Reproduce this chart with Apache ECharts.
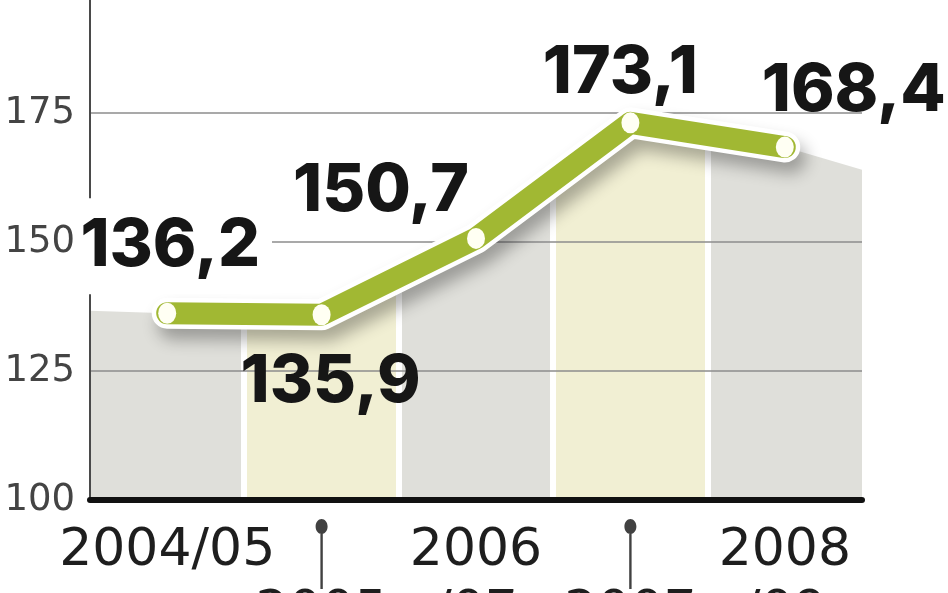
<!DOCTYPE html>
<html>
<head>
<meta charset="utf-8">
<script src="https://cdn.jsdelivr.net/npm/echarts@6/dist/echarts.min.js"></script>
<style>
html,body{margin:0;padding:0;background:#fff;}
#chart{width:948px;height:593px;}
</style>
</head>
<body>
<div id="chart"></div>
<script>
// ---- data ----
const categories = ['2004/05', '2005/06', '2006/07', '2007/08', '2008/09'];
const values = [136.2, 135.9, 150.7, 173.1, 168.4];
const pinCategories = ['2005/06', '2007/08'];
const yMin = 100, yMax = 200, yStep = 25;
// top of the shaded background at the far left / far right edges of the plot
const areaEdgeLeft = 136.7;
const areaEdgeRight = 164.0;

// ---- styling ----
const GREEN = '#a1b833';
const GREY = '#dfdfda';
const YELLOW = '#f1efd3';
const labelOffsets = [[9, -67], [9, 67], [-95, -47], [-10, -50], [69, -56]];

const chart = echarts.init(document.getElementById('chart'), null, {renderer: 'canvas'});

const g = 0.004;
const areaGradient = {
  type: 'linear', x: 0, y: 0, x2: 1, y2: 0,
  colorStops: [
    {offset: 0, color: GREY}, {offset: 0.2 - g, color: GREY},
    {offset: 0.2 - g, color: '#ffffff'}, {offset: 0.2 + g, color: '#ffffff'},
    {offset: 0.2 + g, color: YELLOW}, {offset: 0.4 - g, color: YELLOW},
    {offset: 0.4 - g, color: '#ffffff'}, {offset: 0.4 + g, color: '#ffffff'},
    {offset: 0.4 + g, color: GREY}, {offset: 0.6 - g, color: GREY},
    {offset: 0.6 - g, color: '#ffffff'}, {offset: 0.6 + g, color: '#ffffff'},
    {offset: 0.6 + g, color: YELLOW}, {offset: 0.8 - g, color: YELLOW},
    {offset: 0.8 - g, color: '#ffffff'}, {offset: 0.8 + g, color: '#ffffff'},
    {offset: 0.8 + g, color: GREY}, {offset: 1, color: GREY}
  ]
};

const areaData = [[-0.5, areaEdgeLeft]]
  .concat(values.map((v, i) => [i, v]))
  .concat([[categories.length - 0.5, areaEdgeRight]]);

const lineData = values.map((v, i) => {
  const item = {
    value: v,
    label: {offset: labelOffsets[i]}
  };
  if (i === 0) {
    item.label.backgroundColor = '#ffffff';
    item.label.padding = [22, 12, 8, 0];
  }
  return item;
});

const pinPath = 'path://M6,0 C9.3,0 12,3.4 12,7.5 C12,11.6 9.3,15 6,15 C2.7,15 0,11.6 0,7.5 C0,3.4 2.7,0 6,0 Z M4.8,12 L7.2,12 L7.2,70 L4.8,70 Z';

const option = {
  animation: false,
  backgroundColor: '#ffffff',
  grid: {left: 90, right: 86, top: -16, bottom: 93, containLabel: false, outerBoundsMode: 'none'},
  xAxis: [
    {
      type: 'category',
      data: categories,
      boundaryGap: true,
      axisLine: {show: true, onZero: false, lineStyle: {color: '#111111', width: 6}},
      axisTick: {show: false},
      splitLine: {show: false},
      axisLabel: {
        interval: 0,
        margin: 20,
        fontFamily: 'DejaVu Sans',
        fontSize: 52,
        lineHeight: 62,
        color: '#1e1e1e',
        formatter: function (v, i) {
          if (i === 0) return v;
          const parts = v.split('/');
          const txt = parts[0] + '\n/' + parts[1];
          return (i % 2 === 1) ? ' \n' + txt : txt;
        }
      },
      z: 5
    },
    {
      type: 'value',
      min: -0.5,
      max: categories.length - 0.5,
      show: false
    }
  ],
  yAxis: {
    type: 'value',
    min: yMin,
    max: yMax,
    interval: yStep,
    axisLine: {show: true, onZero: false, lineStyle: {color: '#4a4a4a', width: 2}},
    axisTick: {show: false},
    splitLine: {show: true, lineStyle: {color: '#8c8c8c', width: 1.5}},
    axisLabel: {
      margin: 15,
      fontFamily: 'DejaVu Sans',
      fontSize: 37,
      color: '#444444',
      showMaxLabel: true
    }
  },
  series: [
    {
      type: 'line',
      xAxisIndex: 1,
      data: areaData,
      symbol: 'none',
      lineStyle: {width: 0, opacity: 0},
      areaStyle: {color: areaGradient, opacity: 1, origin: 'start'},
      z: -1,
      silent: true
    },
    {
      type: 'line',
      data: values,
      symbol: 'none',
      lineStyle: {
        color: '#ffffff', width: 31, cap: 'round', join: 'round',
        shadowColor: 'rgba(0,0,0,0.3)', shadowBlur: 16, shadowOffsetX: 6, shadowOffsetY: 11
      },
      z: 3,
      silent: true
    },
    {
      type: 'line',
      data: lineData,
      symbol: 'circle',
      symbolSize: [18, 21],
      showAllSymbol: true,
      itemStyle: {color: '#fffff3', borderWidth: 0},
      lineStyle: {color: GREEN, width: 22, cap: 'round', join: 'round'},
      label: {
        show: true,
        position: 'inside',
        fontFamily: 'Inter',
        fontWeight: 800,
        fontSize: 66,
        lineHeight: 66,
        color: '#161616',
        formatter: function (p) { return String(values[p.dataIndex]).replace('.', ','); }
      },
      z: 4
    },
    {
      type: 'scatter',
      data: pinCategories.map(c => [c, yMin]),
      symbol: pinPath,
      symbolSize: [12, 70],
      symbolOffset: [0, 54],
      itemStyle: {color: '#111111'},
      clip: false,
      silent: true,
      z: 6
    }
  ]
};

chart.setOption(option);
</script>
</body>
</html>
